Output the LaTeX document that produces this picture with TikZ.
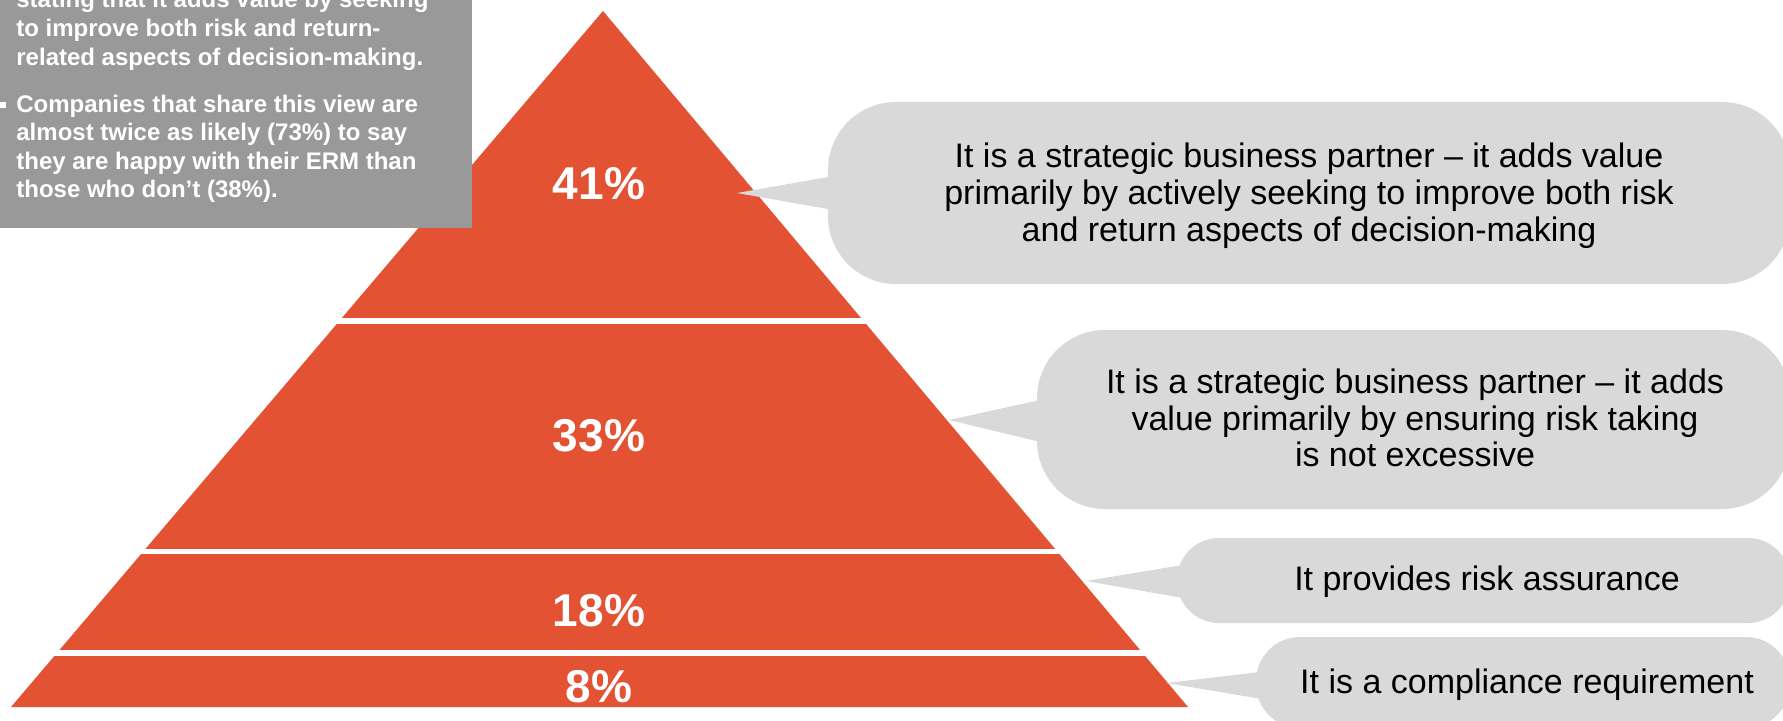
\documentclass[tikz,border=0pt]{standalone}
\usepackage{fontspec}
\setmainfont{Liberation Sans}
\usetikzlibrary{calc}
\definecolor{pyrred}{RGB}{227,82,51}
\definecolor{notegray}{RGB}{153,153,153}
\definecolor{bubblegray}{RGB}{217,217,217}
\begin{document}
\begin{tikzpicture}[x=0.5pt,y=-0.5pt,
  pct/.style={text=white,inner sep=0,font=\fontsize{23}{26}\selectfont\bfseries},
  bubble/.style={fill=bubblegray,draw=none,inner sep=0,rectangle},
  bubbletext/.style={text=black,align=center,inner sep=0,font=\fontsize{17}{18.4}\selectfont}]
\useasboundingbox (0,0) rectangle (1783,721);
\clip (0,0) rectangle (1783,721);

% pyramid: one triangle cut into four horizontal tiers
\coordinate (apex) at (603,11);
\coordinate (baseL) at (11,707);
\coordinate (baseR) at (1188,707);
\begin{scope}
  \clip (apex) -- (baseL) -- (baseR) -- cycle;
  \fill[pyrred] (0,0)   rectangle (1200,318);
  \fill[pyrred] (0,324) rectangle (1200,549);
  \fill[pyrred] (0,554) rectangle (1200,650);
  \fill[pyrred] (0,656) rectangle (1200,708);
\end{scope}
\node[pct] (p41) at (599,184) {41\%};
\node[pct] (p33) at (599,436) {33\%};
\node[pct] (p18) at (599,611) {18\%};
\node[pct] (p8)  at (599,687) {8\%};

% speech bubbles
\node[bubble,rounded corners=34pt,minimum width=481pt,minimum height=91pt] (c1) at (1309,193) {};
\node[bubble,rounded corners=34pt,minimum width=376.5pt,minimum height=89.5pt] (c2) at (1413.5,419.5) {};
\node[bubble,rounded corners=21pt,minimum width=306.5pt,minimum height=42.5pt] (c3) at (1483.5,580.5) {};
\node[bubble,rounded corners=22pt,minimum width=267pt,minimum height=45.5pt] (c4) at (1523,682.5) {};

% bubble pointers
\coordinate (t1) at (737,193);
\coordinate (t2) at (949,420);
\coordinate (t3) at (1086,581);
\coordinate (t4) at (1166,683);
\fill[bubblegray] ($(c1.west)+(6,-17)$) -- (t1) -- ($(c1.west)+(6,17)$) -- cycle;
\fill[bubblegray] ($(c2.west)+(6,-20)$) -- (t2) -- ($(c2.west)+(6,23)$) -- cycle;
\fill[bubblegray] ($(c3.west)+(9,-16)$) -- (t3) -- ($(c3.west)+(9,18)$) -- cycle;
\fill[bubblegray] ($(c4.west)+(9,-11)$) -- (t4) -- ($(c4.west)+(9,17)$) -- cycle;

\node[bubbletext] (c1text) at (1309,196) {It is a strategic business partner – it adds value\\primarily by actively seeking to improve both risk\\and return aspects of decision-making};
\node[bubbletext] (c2text) at (1415,418) {It is a strategic business partner – it adds\\value primarily by ensuring risk taking\\is not excessive};
\node[bubbletext] (c3text) at (1487,582) {It provides risk assurance};
\node[bubbletext] (c4text) at (1527,685) {It is a compliance requirement};

% grey note panel
\node[fill=notegray,inner sep=0,minimum width=236pt,minimum height=125pt,anchor=south west] (note) at (0,228) {};
\fill[white] (0,102) rectangle (6,108);
\node[anchor=base west,inner sep=0,text=white] (notetext) at (16,8)
  {\parbox[t]{232pt}{\raggedright\fontsize{12}{14.3}\selectfont\bfseries
   stating that it adds value by seeking\newline
   to improve both risk and return-\newline
   related aspects of decision-making.\par\vspace{9.2pt}
   Companies that share this view are\newline
   almost twice as likely (73\%) to say\newline
   they are happy with their ERM than\newline
   those who don’t (38\%).}};
\end{tikzpicture}
\end{document}
